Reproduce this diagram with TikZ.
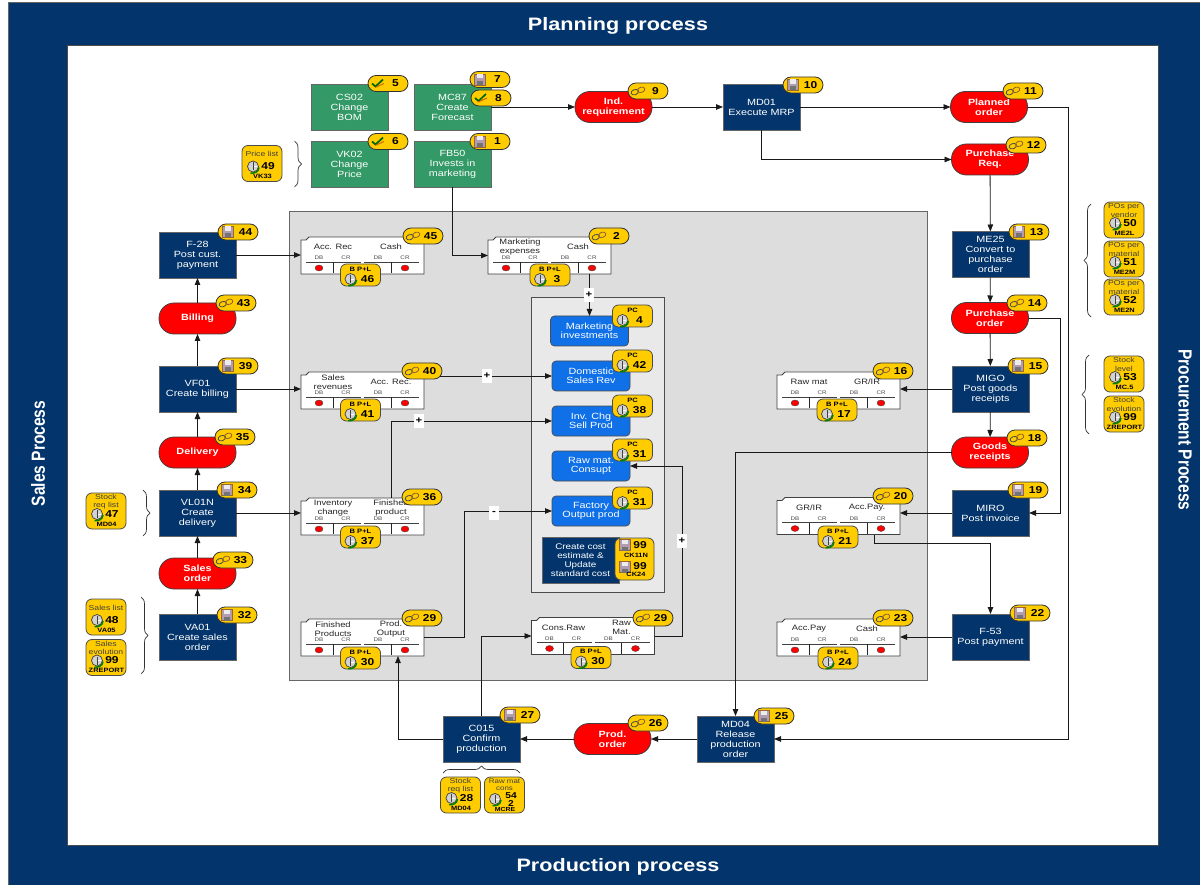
\documentclass[tikz,border=0pt]{standalone}
\usepackage{fontspec}
\setmainfont[FakeStretch=1.2]{Liberation Sans}
\newfontfamily\sidefont[FakeStretch=0.82]{Liberation Sans}
\usepackage{tikz}
\usetikzlibrary{calc,arrows.meta,decorations.pathreplacing}

\definecolor{navy}{HTML}{03356C}
\definecolor{sapgreen}{HTML}{339966}
\definecolor{skyblue}{HTML}{0F70E8}
\definecolor{badge}{HTML}{FFCC00}
\definecolor{panel}{HTML}{DDDDDD}
\definecolor{innerpanel}{HTML}{E9E9E9}

% small icons used on the badges
\newcommand{\iconsave}[1]{\begin{scope}[shift={(#1)}]
    \filldraw[fill=violet!30!gray!60,draw=brown!80!black,line width=.8pt] (-5.5,-5.5) rectangle (5.5,5.5);
    \fill[white!85!gray] (-3,-5.5) rectangle (3,-1);
    \fill[black!55] (-3,1.5) rectangle (3,5.5);
\end{scope}}
\newcommand{\iconlink}[1]{\begin{scope}[shift={(#1)}]
    \draw[black!70,line width=.8pt,rotate=20] (-3.4,0) ellipse (3.8 and 2.6);
    \draw[brown!75!black,line width=.8pt,rotate=20] (3.4,0) ellipse (3.8 and 2.6);
\end{scope}}
\newcommand{\iconcheck}[1]{\begin{scope}[shift={(#1)}]
    \draw[green!40!black,line width=1.7pt] (-6,0) -- (-2.5,3) -- (5,-4);
    \draw[orange!80!black,line width=1pt] (-3,4) -- (6,0);
\end{scope}}
\newcommand{\iconclock}[1]{\begin{scope}[shift={(#1)}]
    \filldraw[fill=gray!35,draw=black!75,line width=.7pt] (0,0) circle (5.5);
    \draw[white,line width=.7pt] (0,-4) -- (0,0) -- (3.5,0);
    \draw[black!75,line width=.5pt] (0,-4) -- (0,4);
    \draw[green!50!black,line width=1.5pt] (6,1) .. controls (5.5,6) and (1,7) .. (-2.5,6.5);
\end{scope}}

% badge with an icon and a number
\newcommand{\pillmark}[4]{%
    \node[pillbox] (#1) at (#2) {\hspace*{15pt}#4};
    \begin{scope}[shift={(#1.center)}]#3{-10,0}\end{scope}}
% taller badge, heading above the number
\newcommand{\tagmark}[4]{%
    \node[tagbox] (#1) at (#2) {};
    \node[tagtitle] (#1-t) at ([yshift=6pt]#1.center) {#3};
    \node[tagnum] (#1-n) at ([xshift=7pt,yshift=-4pt]#1.center) {#4};
    \begin{scope}[shift={(#1.center)}]\iconclock{-10,4}\end{scope}}
% report badge, position is its top left corner
\newcommand{\report}[5]{%
    \node[reportbox,anchor=north west] (#1) at (#2) {};
    \begin{scope}[shift={(#1.north west)}]
        \node[reporttitle] (#1-t) at (20,8.5) {#3};
        \node[tagnum] (#1-n) at (26,21) {#4};
        \node[reportcode] (#1-c) at (20.5,31) {#5};
        \iconclock{11,21}
    \end{scope}}
% ledger entry with two accounts
\newcommand{\ledger}[4]{%
    \node[ledgerbox] (#1) at (#2) {};
    \begin{scope}[shift={(#1.north west)}]
        \filldraw[fill=white,draw=black!75,line width=.8pt] (0,3) -- (5,3) -- (8,0) -- (123,0) -- (123,37) -- (0,37) -- cycle;
        \node[ledgertitle] (#1-a) at (32,10) {#3};
        \node[ledgertitle] (#1-b) at (90,10) {#4};
        \foreach \dx/\lab in {18/DB,45/CR,77/DB,104/CR}
            \node[ledgersmall] (#1-\dx) at (\dx,21) {\lab};
        \draw[black!75,line width=.7pt] (5,25) -- (60,25) (63,25) -- (118,25);
        \draw[black!85,line width=.7pt] (32,25) -- (32,36) (90,25) -- (90,36);
        \filldraw[fill=red,draw=black!70,line width=.4pt] (18,31) ellipse (4 and 3);
        \filldraw[fill=red,draw=black!70,line width=.4pt] (104,31) ellipse (4 and 3);
    \end{scope}}

\begin{document}
\begin{tikzpicture}[x=1pt,y=-1pt,>={Triangle[length=7pt,width=5.5pt]}]
    \tikzstyle{every node}=[inner sep=0pt,outer sep=0pt,align=center]
    \tikzstyle{stepbase}=[minimum width=77pt,minimum height=46pt,text=white,font=\fontsize{9}{10}\selectfont]
    \tikzstyle{bluebox}=[stepbase,fill=navy,draw=black!60,line width=.8pt]
    \tikzstyle{greenbox}=[stepbase,fill=sapgreen,draw=black!60,line width=.8pt]
    \tikzstyle{redbox}=[minimum width=77pt,minimum height=31pt,rounded corners=15pt,fill=red,draw=black!75,line width=.8pt,text=white,font=\fontsize{9}{9.8}\selectfont\bfseries]
    \tikzstyle{costbox}=[minimum width=78pt,minimum height=30pt,rounded corners=4pt,fill=skyblue,draw=black!70,line width=.7pt,text=white,font=\fontsize{9}{9.4}\selectfont]
    \tikzstyle{pillbox}=[minimum width=40pt,minimum height=16pt,rounded corners=8pt,fill=badge,draw=black!80,line width=.8pt,font=\fontsize{10}{10}\selectfont\bfseries]
    \tikzstyle{tagbox}=[minimum width=40pt,minimum height=22pt,rounded corners=6pt,fill=badge,draw=black!70,line width=.8pt]
    \tikzstyle{tagtitle}=[font=\fontsize{6.3}{7}\selectfont\bfseries]
    \tikzstyle{tagnum}=[font=\fontsize{10}{10}\selectfont\bfseries]
    \tikzstyle{reportbox}=[minimum width=40pt,minimum height=36pt,rounded corners=6pt,fill=badge,draw=black!70,line width=.8pt]
    \tikzstyle{reporttitle}=[text=black!75,font=\fontsize{7.2}{8.6}\selectfont]
    \tikzstyle{reportcode}=[font=\fontsize{6.2}{7}\selectfont\bfseries]
    \tikzstyle{ledgerbox}=[minimum width=123pt,minimum height=37pt]
    \tikzstyle{ledgertitle}=[text=black!85,font=\fontsize{7.8}{9}\selectfont]
    \tikzstyle{ledgersmall}=[text=black!70,font=\fontsize{5.2}{6}\selectfont]
    \tikzstyle{markbox}=[minimum width=10pt,minimum height=14pt,fill=white,font=\fontsize{9.5}{10}\selectfont\bfseries]
    \tikzstyle{heading}=[text=white,font=\fontsize{18}{20}\selectfont\bfseries]
    \tikzstyle{sideheading}=[text=white,font=\sidefont\fontsize{19}{20}\selectfont\bfseries]
    \tikzstyle{link}=[black!90,line width=.8pt]
    \tikzstyle{brk}=[black!80,line width=.7pt,decorate,decoration={brace,amplitude=7pt}]
    \useasboundingbox (0,0) rectangle (1200,885);

    % draw the frame and panels
    \filldraw[fill=navy,draw=black!60,line width=.8pt] (8.5,2.5) rectangle (1205,890);
    \filldraw[fill=white,draw=black!70,line width=1pt] (67,46) rectangle (1158,845);
    \filldraw[fill=panel,draw=black!60,line width=1pt] (289,212) rectangle (927,680);
    \filldraw[fill=innerpanel,draw=black!70,line width=.9pt] (531,297) rectangle (664,592);
    \node[heading] (planning) at (618,26) {Planning process};
    \node[heading] (production) at (618,867) {Production process};
    \node[sideheading,rotate=90] (salesside) at (38,453.5) {Sales Process};
    \node[sideheading,rotate=-90] (procside) at (1185,430) {Procurement Process};

    % draw the green steps
    \node[greenbox] (cs02) at (349.5,107) {CS02\\Change\\BOM};
    \node[greenbox] (mc87) at (452.5,107) {MC87\\Create\\Forecast};
    \node[greenbox] (vk02) at (349.5,164) {VK02\\Change\\Price};
    \node[greenbox] (fb50) at (452.5,164) {FB50\\Invests in\\marketing};

    % draw the blue steps
    \node[bluebox] (md01) at (761.5,107) {MD01\\Execute MRP};
    \node[bluebox] (f28) at (197.5,255) {F-28\\Post cust.\\payment};
    \node[bluebox] (vf01) at (197.5,389) {VF01\\Create billing};
    \node[bluebox] (vl01n) at (197.5,513) {VL01N\\Create\\delivery};
    \node[bluebox] (va01) at (197.5,637) {VA01\\Create sales\\order};
    \node[bluebox] (me25) at (990.5,254.5) {ME25\\Convert to\\purchase\\order};
    \node[bluebox] (migo) at (990.5,389) {MIGO\\Post goods\\receipts};
    \node[bluebox] (miro) at (990.5,513) {MIRO\\Post invoice};
    \node[bluebox] (f53) at (990.5,637) {F-53\\Post payment};
    \node[bluebox] (md04) at (735.5,739) {MD04\\Release\\production\\order};
    \node[bluebox] (c015) at (481.5,739) {C015\\Confirm\\production};

    % draw the red documents
    \node[redbox] (indreq) at (613.5,107) {Ind.\\requirement};
    \node[redbox] (planned) at (989,107) {Planned\\order};
    \node[redbox] (prreq) at (990,159.5) {Purchase\\Req.};
    \node[redbox] (purord) at (990,318) {Purchase\\order};
    \node[redbox] (goods) at (990,452.5) {Goods\\receipts};
    \node[redbox] (billing) at (197.5,318.5) {Billing};
    \node[redbox] (delivery) at (197.5,452.5) {Delivery};
    \node[redbox] (salesord) at (197.5,573.5) {Sales\\order};
    \node[redbox] (prodord) at (612.5,739) {Prod.\\order};

    % draw the cost elements
    \node[costbox] (mktinv) at (589.5,331) {Marketing\\investments};
    \node[costbox] (domsales) at (591,376) {Domestic\\Sales Rev};
    \node[costbox] (invchg) at (591,421) {Inv. Chg\\Sell Prod};
    \node[costbox] (rawcons) at (591,466) {Raw mat.\\Consupt};
    \node[costbox] (factory) at (591,511) {Factory\\Output prod};
    \node[bluebox,minimum width=77pt,font=\fontsize{8.2}{8.8}\selectfont] (coststd) at (580.5,560) {Create cost\\estimate \&\\Update\\standard cost};

    % draw the ledgers
    \ledger{lgarec}{362.5,255.5}{Acc. Rec}{Cash}
    \ledger{lgmktg}{549.5,255.5}{Marketing\\expenses}{Cash}
    \ledger{lgsales}{362.5,390.5}{Sales\\revenues}{Acc. Rec.}
    \ledger{lginv}{362.5,516.5}{Inventory\\change}{Finished\\product}
    \ledger{lgfin}{362.5,637.5}{Finished\\Products}{Prod.\\Output}
    \ledger{lgcons}{593,636}{Cons.Raw}{Raw\\Mat.}
    \ledger{lgraw}{838.5,390.5}{Raw mat}{GR/IR}
    \ledger{lggrap}{838.5,516}{GR/IR}{Acc.Pay.}
    \ledger{lgcash}{838.5,637.5}{Acc.Pay}{Cash}

    % draw the connectors
    \coordinate (bendplan) at (1068,739);
    \coordinate (bendpo) at (1060,513);
    \coordinate (bendfin) at (464,511);
    \coordinate (bendcons) at (682,466);
    \coordinate (bendap) at (990.5,543);
    \draw[link,->] (mc87) -- (indreq);
    \draw[link,->] (indreq) -- (md01);
    \draw[link,->] (md01) -- (planned);
    \draw[link,->] (md01.south) |- (prreq.west);
    \draw[link,->] (planned.east) -| (bendplan) -- (md04.east);
    \draw[link,->] (prreq) -- (me25);
    \draw[link,->] (me25) -- (purord);
    \draw[link,->] (purord) -- (migo);
    \draw[link,->] (purord.east) -| (bendpo) -- (miro.east);
    \draw[link,->] (migo) -- (goods);
    \draw[link,->] (migo.west) -- (migo.west -| lgraw.east);
    \draw[link,->] (miro.west) -- (miro.west -| lggrap.east);
    \draw[link,->] ([xshift=35.5pt]lggrap.south) |- (bendap) -- (f53.north);
    \draw[link,->] (f53.west) -- (f53.west -| lgcash.east);
    \draw[link,->] (goods.west) -| (md04.north);
    \draw[link,->] (md04) -- (prodord);
    \draw[link,->] (prodord) -- (c015);
    \draw[link,->] (c015.west) -| ([xshift=35.5pt]lgfin.south);
    \draw[link,->] (c015.north) |- (lgcons.west);
    \draw[link,->] (lgcons.east) -| (bendcons) -- (rawcons.east);
    \draw[link,->] (lgfin.east) -| (bendfin) -- (factory.west);
    \draw[link,->] ([xshift=28.5pt]lginv.north) |- (invchg.west);
    \draw[link,->] (domsales -| lgsales.east) -- (domsales.west);
    \draw[link,->] ([xshift=40pt]lgmktg.south) -- ([xshift=40pt]lgmktg.south |- mktinv.north);
    \draw[link,->] (fb50.south) |- (lgmktg.west);
    \draw[link,->] (f28.east) -- (f28.east -| lgarec.west);
    \draw[link,->] (vf01.east) -- (vf01.east -| lgsales.west);
    \draw[link,->] (vl01n.east) -- (vl01n.east -| lginv.west);
    \draw[link,->] (va01) -- (salesord);
    \draw[link,->] (salesord) -- (vl01n);
    \draw[link,->] (vl01n) -- (delivery);
    \draw[link,->] (delivery) -- (vf01);
    \draw[link,->] (vf01) -- (billing);
    \draw[link,->] (billing) -- (f28);

    % draw the plus and minus marks
    \node[markbox] (mkmktg) at (589,295) {+};
    \node[markbox] (mksales) at (487,376) {+};
    \node[markbox] (mkinv) at (419,421) {+};
    \node[markbox] (mkfin) at (494,513) {-};
    \node[markbox] (mkcons) at (682,541) {+};

    % draw the small badges
    \pillmark{p5}{388,83.5}{\iconcheck}{5}
    \pillmark{p7}{490,79.5}{\iconsave}{7}
    \pillmark{p8}{491,98}{\iconcheck}{8}
    \pillmark{p6}{388,141.5}{\iconcheck}{6}
    \pillmark{p1}{490,141.5}{\iconsave}{1}
    \pillmark{p9}{648,91}{\iconlink}{9}
    \pillmark{p10}{803,85}{\iconsave}{10}
    \pillmark{p11}{1023,91}{\iconlink}{11}
    \pillmark{p12}{1026,145}{\iconlink}{12}
    \pillmark{p13}{1029,232}{\iconsave}{13}
    \pillmark{p14}{1027,303}{\iconlink}{14}
    \pillmark{p15}{1028,366}{\iconsave}{15}
    \pillmark{p18}{1027,438}{\iconlink}{18}
    \pillmark{p19}{1028,490}{\iconsave}{19}
    \pillmark{p22}{1030,613}{\iconsave}{22}
    \pillmark{p25}{774,716}{\iconsave}{25}
    \pillmark{p26}{648,723}{\iconlink}{26}
    \pillmark{p27}{520,715}{\iconsave}{27}
    \pillmark{p44}{238,232}{\iconsave}{44}
    \pillmark{p43}{236,303}{\iconlink}{43}
    \pillmark{p39}{238,366}{\iconsave}{39}
    \pillmark{p35}{235,437}{\iconlink}{35}
    \pillmark{p34}{237,490}{\iconsave}{34}
    \pillmark{p33}{233,560}{\iconlink}{33}
    \pillmark{p32}{237,615}{\iconsave}{32}
    \pillmark{p45}{423,236}{\iconlink}{45}
    \pillmark{p2}{609,236}{\iconlink}{2}
    \pillmark{p40}{422,371}{\iconlink}{40}
    \pillmark{p36}{422,497}{\iconlink}{36}
    \pillmark{p29a}{422,618}{\iconlink}{29}
    \pillmark{p29b}{653,618}{\iconlink}{29}
    \pillmark{p16}{893,371}{\iconlink}{16}
    \pillmark{p20}{893,496}{\iconlink}{20}
    \pillmark{p23}{893,618}{\iconlink}{23}

    % draw the taller badges
    \tagmark{t46}{360.5,275}{B P+L}{46}
    \tagmark{t3}{550,275}{B P+L}{3}
    \tagmark{t41}{360.5,410}{B P+L}{41}
    \tagmark{t37}{360.5,537}{B P+L}{37}
    \tagmark{t30a}{360.5,658}{B P+L}{30}
    \tagmark{t30b}{591,657.5}{B P+L}{30}
    \tagmark{t17}{837,410}{B P+L}{17}
    \tagmark{t21}{838,537}{B P+L}{21}
    \tagmark{t24}{838,658}{B P+L}{24}
    \tagmark{t4}{632.5,316}{PC}{4}
    \tagmark{t42}{632.5,361}{PC}{42}
    \tagmark{t38}{632.5,406}{PC}{38}
    \tagmark{t31a}{632.5,450}{PC}{31}
    \tagmark{t31b}{632.5,498}{PC}{31}

    % draw the badge of the cost estimate
    \node[tagbox,minimum width=39pt,minimum height=42pt] (tcost) at (634.5,559) {};
    \iconsave{625,545}
    \iconsave{625,567}
    \node[tagnum] (tcost-a) at (640,545) {99};
    \node[reportcode] (tcost-b) at (636,555) {CK11N};
    \node[tagnum] (tcost-c) at (640,566) {99};
    \node[reportcode] (tcost-d) at (636,574.5) {CK24};

    % draw the report badges
    \report{r49}{242,145.5}{Price list}{49}{VK33}
    \report{r47}{86,493}{Stock\\req list}{47}{MD04}
    \report{r48}{86,599}{Sales list}{48}{VA05}
    \report{r99a}{86,639.5}{Sales\\evolution}{99}{ZREPORT}
    \report{r50}{1104,202}{POs per\\vendor}{50}{ME2L}
    \report{r51}{1104,241}{POs per\\material}{51}{ME2M}
    \report{r52}{1104,279}{POs per\\material}{52}{ME2N}
    \report{r53}{1104,356}{Stock\\level}{53}{MC.5}
    \report{r99b}{1104,396}{Stock\\evolution}{99}{ZREPORT}
    \report{r28}{440.5,777}{Stock\\req list}{28}{MD04}
    % this one has its number broken over two lines
    \node[reportbox,anchor=north west] (r54) at (484.5,777) {};
    \node[reporttitle,font=\fontsize{6.6}{7}\selectfont] (r54-t) at (504.5,784.5) {Raw mat\\cons};
    \node[tagnum,font=\fontsize{8.5}{9}\selectfont\bfseries] (r54-n) at (511,796) {54};
    \node[tagnum,font=\fontsize{8.5}{9}\selectfont\bfseries] (r54-m) at (511,803.5) {2};
    \node[reportcode,font=\fontsize{5.8}{6}\selectfont\bfseries] (r54-c) at (505,809.5) {MCRE};
    \iconclock{495,799}

    % draw the braces
    \draw[brk] (294.5,141) -- (294.5,187);
    \draw[brk] (143,490) -- (143,536);
    \draw[brk] (141,597) -- (141,674);
    \draw[brk] (1091,317) -- (1091,204);
    \draw[brk] (1089,434) -- (1089,355);
    \draw[brk] (443,773) -- (520,773);
\end{tikzpicture}
\end{document}
